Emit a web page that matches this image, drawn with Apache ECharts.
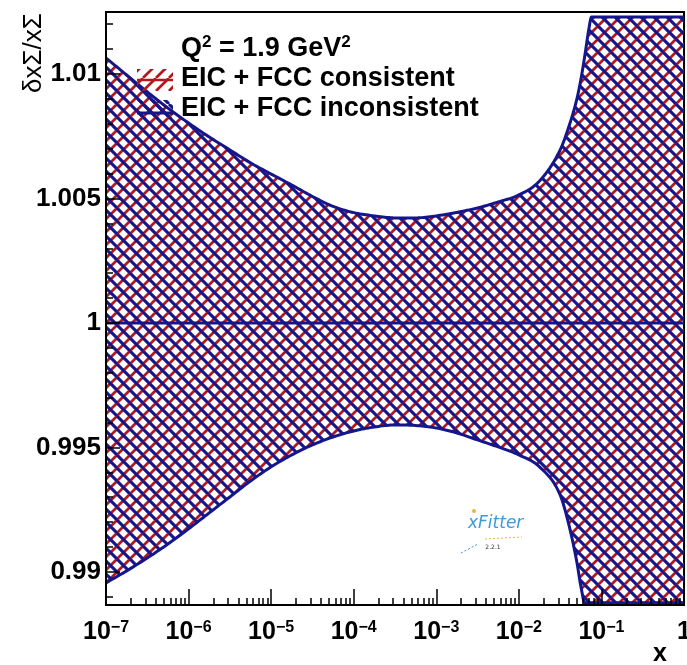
<!DOCTYPE html>
<html>
<head>
<meta charset="utf-8">
<script src="https://cdn.jsdelivr.net/npm/echarts@6/dist/echarts.min.js"></script>
<style>
  html, body { margin: 0; padding: 0; background: #fff; }
  #chart { width: 687px; height: 665px; }
</style>
</head>
<body>
<div id="chart"></div>
<script>
// Relative uncertainty band of xΣ at Q² = 1.9 GeV², sampled in log10(x)
const log10X = [-7, -6.75, -6.5, -6.25, -6, -5.75, -5.5, -5.25, -5, -4.75, -4.5, -4.25, -4, -3.75, -3.5,
                -3.25, -3, -2.75, -2.5, -2.25, -2, -1.75, -1.5, -1.4, -1.3, -1.25, -1.2, -1.15, -1.12,
                -1, -0.75, -0.5, -0.25, 0];
// upper / lower edge of the band (both fits give the same band)
const bandUpper = [1.01064, 1.00996, 1.00928, 1.00863, 1.00803, 1.00747, 1.00695, 1.00643, 1.00598, 1.00554,
                   1.00508, 1.00468, 1.00443, 1.00430, 1.00422, 1.00422, 1.00430, 1.00444, 1.00462, 1.00486,
                   1.00514, 1.00570, 1.00695, 1.00783, 1.00896, 1.00976, 1.01076, 1.01185, 1.01229,
                   1.01229, 1.01229, 1.01229, 1.01229, 1.01229];
const bandLower = [0.98956, 0.99004, 0.99056, 0.99112, 0.99173, 0.99237, 0.99301, 0.99365, 0.99422, 0.99470,
                   0.99510, 0.99542, 0.99566, 0.99582, 0.99590, 0.99588, 0.99578, 0.99558, 0.99530, 0.99502,
                   0.99470, 0.99422, 0.99309, 0.99197, 0.99044, 0.98944, 0.98876, 0.98876, 0.98876,
                   0.98876, 0.98876, 0.98876, 0.98876, 0.98876];
const centralValues = log10X.map(() => 1);

const seriesNames = ['EIC + FCC consistent', 'EIC + FCC inconsistent'];
const xMajorTicks = [1e-7, 1e-6, 1e-5, 1e-4, 1e-3, 1e-2, 1e-1, 1];
const yMajorTicks = [0.99, 0.995, 1, 1.005, 1.01];

const Y_MIN = 0.98867, Y_MAX = 1.01249;
const RED = '#b01a1e';
const BLUE = '#15158c';
const NUM_FONT = '"Liberation Sans", Arial, sans-serif';

const xValues = log10X.map((l) => Math.pow(10, l));

// minor tick positions: 2..9 inside each decade, and every 0.001 on y
const xMinorTicks = [];
for (let e = -7; e < 0; e++) {
  for (let m = 2; m <= 9; m++) xMinorTicks.push(m * Math.pow(10, e));
}
const yMinorTicks = [];
for (let k = 989; k <= 1012; k++) {
  if (k % 5 !== 0) yMinorTicks.push(k / 1000);
}

// diagonal hatch tile; dir = 1 draws '/', dir = -1 draws '\'
function hatchTile(color, width, dir, size) {
  const c = document.createElement('canvas');
  c.width = size; c.height = size;
  const g = c.getContext('2d');
  g.strokeStyle = color;
  g.lineWidth = width;
  for (let k = -1; k <= 1; k++) {
    g.beginPath();
    if (dir > 0) { g.moveTo(k * size, size); g.lineTo(k * size + size, 0); }
    else { g.moveTo(k * size, 0); g.lineTo(k * size + size, size); }
    g.stroke();
  }
  return c;
}
const redHatch = { image: hatchTile(RED, 2.7, 1, 13), repeat: 'repeat' };
const blueHatch = { image: hatchTile(BLUE, 3.1, -1, 13), repeat: 'repeat' };

const pairs = (ys) => xValues.map((x, i) => [x, ys[i]]);

// monotone cubic (Fritsch–Carlson) through pixel points, sampled densely
function smoothPath(pts, steps) {
  const n = pts.length;
  const d = [], m = [];
  for (let i = 0; i < n - 1; i++) {
    const dx = pts[i + 1][0] - pts[i][0];
    d.push(dx);
    m.push(dx === 0 ? 0 : (pts[i + 1][1] - pts[i][1]) / dx);
  }
  const t = new Array(n);
  t[0] = m[0]; t[n - 1] = m[n - 2];
  for (let i = 1; i < n - 1; i++) t[i] = (m[i - 1] * m[i] <= 0) ? 0 : (m[i - 1] + m[i]) / 2;
  for (let i = 0; i < n - 1; i++) {
    if (m[i] === 0) { t[i] = 0; t[i + 1] = 0; continue; }
    const a = t[i] / m[i], b = t[i + 1] / m[i], s = a * a + b * b;
    if (s > 9) { const tau = 3 / Math.sqrt(s); t[i] = tau * a * m[i]; t[i + 1] = tau * b * m[i]; }
  }
  const out = [pts[0]];
  for (let i = 0; i < n - 1; i++) {
    const [x0, y0] = pts[i], [, y1] = pts[i + 1], h = d[i];
    for (let k = 1; k <= steps; k++) {
      const u = k / steps, u2 = u * u, u3 = u2 * u;
      const y = (2 * u3 - 3 * u2 + 1) * y0 + (u3 - 2 * u2 + u) * h * t[i] +
                (-2 * u3 + 3 * u2) * y1 + (u3 - u2) * h * t[i + 1];
      out.push([x0 + u * h, y]);
    }
  }
  return out;
}

// band: hatched fill between the edges, optionally with solid outlines
function bandRenderer(fill, outline) {
  return function (params, api) {
    if (params.dataIndex !== 0) return null;
    const up = smoothPath(xValues.map((x, i) => api.coord([x, bandUpper[i]])), 10);
    const lo = smoothPath(xValues.map((x, i) => api.coord([x, bandLower[i]])), 10);
    const children = [{
      type: 'polygon', shape: { points: up.concat(lo.slice().reverse()) },
      style: { fill: fill, stroke: null }
    }];
    if (outline) {
      children.push({ type: 'polyline', shape: { points: up }, style: { stroke: outline, lineWidth: 3, fill: null, lineJoin: 'round' } });
      children.push({ type: 'polyline', shape: { points: lo }, style: { stroke: outline, lineWidth: 3, fill: null, lineJoin: 'round' } });
    }
    return { type: 'group', children: children };
  };
}

function expLabel(v) {
  const e = Math.round(Math.log10(v));
  if (e === 0) return '{b|1}';
  return '{b|10}{s|\u2212' + (-e) + '}';
}

const chart = echarts.init(document.getElementById('chart'), null, { renderer: 'canvas' });

const axisTickStyle = { color: '#000', width: 1.5 };
const legendFont = 'bold 27px ' + NUM_FONT;

const option = {
  animation: false,
  backgroundColor: '#fff',
  grid: {
    left: 106, right: 3, top: 12, bottom: 60, containLabel: false, outerBoundsMode: 'none',
    show: true, borderColor: '#000', borderWidth: 2, backgroundColor: 'transparent'
  },
  xAxis: [
    {
      type: 'log', logBase: 10, min: 1e-7, max: 1, z: 5,
      axisLine: { show: true, lineStyle: { color: '#000', width: 2 } },
      axisTick: { show: true, inside: true, length: 16, customValues: xMajorTicks, lineStyle: axisTickStyle },
      axisLabel: {
        show: true, customValues: xMajorTicks, margin: 15,
        formatter: expLabel,
        rich: {
          b: { fontFamily: NUM_FONT, fontWeight: 'bold', fontSize: 25, color: '#000', lineHeight: 24 },
          s: { fontFamily: NUM_FONT, fontWeight: 'bold', fontSize: 16, color: '#000', lineHeight: 12, verticalAlign: 'top' }
        }
      },
      splitLine: { show: false }
    },
    {
      type: 'log', logBase: 10, min: 1e-7, max: 1, position: 'bottom', z: 5,
      axisLine: { show: false },
      axisTick: { show: true, inside: true, length: 7, customValues: xMinorTicks, lineStyle: axisTickStyle },
      axisLabel: { show: false },
      splitLine: { show: false }
    }
  ],
  yAxis: [
    {
      type: 'value', min: Y_MIN, max: Y_MAX, z: 5,
      axisLine: { show: true, lineStyle: { color: '#000', width: 2 } },
      axisTick: { show: true, inside: true, length: 14, customValues: yMajorTicks, lineStyle: axisTickStyle },
      axisLabel: {
        show: true, customValues: yMajorTicks, margin: 5,
        fontFamily: NUM_FONT, fontWeight: 'bold', fontSize: 26, color: '#000',
        formatter: (v) => String(+(+v).toFixed(3))
      },
      splitLine: { show: false }
    },
    {
      type: 'value', min: Y_MIN, max: Y_MAX, position: 'left', z: 5,
      axisLine: { show: false },
      axisTick: { show: true, inside: true, length: 7, customValues: yMinorTicks, lineStyle: axisTickStyle },
      axisLabel: { show: false },
      splitLine: { show: false }
    }
  ],
  series: [
    // consistent fit: red '/' hatching
    {
      name: seriesNames[0], type: 'custom', coordinateSystem: 'cartesian2d', clip: true,
      data: [[xValues[0], bandLower[0]]], renderItem: bandRenderer(redHatch, null), silent: true, z: 2
    },
    // inconsistent fit: blue '\' hatching with solid outline
    {
      name: seriesNames[1], type: 'custom', coordinateSystem: 'cartesian2d', clip: true,
      data: [[xValues[0], bandLower[0]]], renderItem: bandRenderer(blueHatch, BLUE), silent: true, z: 2
    },
    // central value
    {
      name: 'central', type: 'line', data: pairs(centralValues), z: 3,
      showSymbol: false, symbol: 'none', lineStyle: { width: 3, color: BLUE }
    }
  ],
  graphic: [
    // axis titles
    {
      type: 'text', x: 34, y: 53, rotation: Math.PI / 2, z: 10,
      style: { text: '\u03B4x\u03A3/x\u03A3', font: '26px ' + NUM_FONT, fill: '#000', align: 'center', verticalAlign: 'middle' }
    },
    {
      type: 'text', x: 660, y: 654, z: 10,
      style: { text: 'x', font: 'bold 25px ' + NUM_FONT, fill: '#000', align: 'center', verticalAlign: 'middle' }
    },
    // legend header and entries
    {
      type: 'text', x: 181, y: 49, z: 10,
      style: {
        text: '{a|Q}{s|2}{a| = 1.9 GeV}{s|2}', align: 'left', verticalAlign: 'middle',
        rich: {
          a: { fontFamily: NUM_FONT, fontWeight: 'bold', fontSize: 27, color: '#000', lineHeight: 30 },
          s: { fontFamily: NUM_FONT, fontWeight: 'bold', fontSize: 17, color: '#000', lineHeight: 13, verticalAlign: 'top' }
        }
      }
    },
    {
      type: 'text', x: 181, y: 79, z: 10,
      style: { text: seriesNames[0], font: legendFont, fill: '#000', align: 'left', verticalAlign: 'middle' }
    },
    {
      type: 'text', x: 181, y: 109, z: 10,
      style: { text: seriesNames[1], font: legendFont, fill: '#000', align: 'left', verticalAlign: 'middle' }
    },
    { type: 'rect', z: 10, shape: { x: 137, y: 69, width: 36, height: 22 }, style: { fill: redHatch, stroke: null } },
    { type: 'line', z: 10, shape: { x1: 137, y1: 80, x2: 173, y2: 80 }, style: { stroke: RED, lineWidth: 2.5 } },
    { type: 'rect', z: 10, shape: { x: 137, y: 100, width: 36, height: 18 }, style: { fill: blueHatch, stroke: null } },
    { type: 'line', z: 10, shape: { x1: 137, y1: 113, x2: 173, y2: 113 }, style: { stroke: BLUE, lineWidth: 3 } },
    // xFitter mark
    {
      type: 'text', x: 468, y: 532, z: 10,
      style: { text: 'xFitter', font: 'italic 17px "DejaVu Sans", sans-serif', fill: '#3d9ad6', align: 'left', verticalAlign: 'bottom' }
    },
    {
      type: 'text', x: 493, y: 547, z: 10,
      style: { text: '2.2.1', font: '6px "DejaVu Sans", sans-serif', fill: '#333', align: 'center', verticalAlign: 'middle' }
    },
    { type: 'line', z: 10, shape: { x1: 485, y1: 539, x2: 522, y2: 537 }, style: { stroke: '#e8b53a', lineWidth: 1, lineDash: [2, 2] } },
    { type: 'line', z: 10, shape: { x1: 461, y1: 553, x2: 478, y2: 544 }, style: { stroke: '#3d9ad6', lineWidth: 1, lineDash: [2, 2] } },
    { type: 'circle', z: 10, shape: { cx: 474, cy: 511, r: 2 }, style: { fill: '#e8b53a' } }
  ]
};

chart.setOption(option);
</script>
</body>
</html>
